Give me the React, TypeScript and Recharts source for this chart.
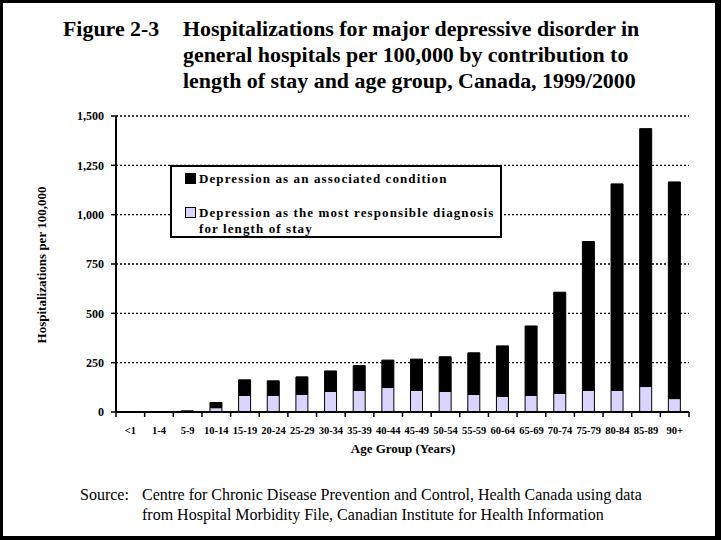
import React from 'react';
import { BarChart, Bar, XAxis, YAxis, CartesianGrid, Legend } from 'recharts';

const CATEGORIES = ['<1', '1-4', '5-9', '10-14', '15-19', '20-24', '25-29', '30-34', '35-39', '40-44', '45-49', '50-54', '55-59', '60-64', '65-69', '70-74', '75-79', '80-84', '85-89', '90+'];
const TOTAL = [0, 0, 6, 48, 163, 158, 178, 208, 235, 263, 268, 280, 300, 335, 436, 607, 864, 1156, 1436, 1166];
const MOST_RESPONSIBLE = [0, 0, 2, 22, 84, 84, 89, 104, 109, 124, 109, 104, 89, 79, 84, 94, 109, 109, 129, 68];
const Y_TICKS = [0, 250, 500, 750, 1000, 1250, 1500];

const SERIES_ASSOC = 'Depression as an associated condition';
const SERIES_MRD = 'Depression as the most responsible diagnosis for length of stay';

const data = CATEGORIES.map((c, i) => ({
  age: c,
  mrd: MOST_RESPONSIBLE[i],
  assoc: TOTAL[i] - MOST_RESPONSIBLE[i],
}));

const W = 721;
const H = 540;
const MARGIN = { top: 116, right: 32, left: 56, bottom: 98 };
const Y_AXIS_W = 60;
const X_AXIS_H = 30;
const PLOT_W = W - MARGIN.left - MARGIN.right - Y_AXIS_W;
const LAVENDER = '#D9D5FF';
const SERIF = '"Liberation Serif", "Times New Roman", serif';

const fmt = (v: number) => v.toLocaleString('en-US');

const XTick = (props: any) => {
  const { x, y, payload, index } = props;
  const half = PLOT_W / CATEGORIES.length / 2;
  const axisY = y - 8;
  return (
    <g>
      <line x1={x - half} y1={axisY} x2={x - half} y2={axisY + 5} stroke="#000" strokeWidth={1.5} />
      {index === CATEGORIES.length - 1 && (
        <line x1={x + half} y1={axisY} x2={x + half} y2={axisY + 5} stroke="#000" strokeWidth={1.5} />
      )}
      <text x={x} y={axisY + 22} textAnchor="middle" fontFamily={SERIF} fontWeight="bold" fontSize={10.5} fill="#000">
        {payload.value}
      </text>
    </g>
  );
};

const LegendBox = () => (
  <div
    style={{
      position: 'relative',
      width: 332,
      height: 73,
      border: '2px solid #000',
      background: '#fff',
      boxSizing: 'border-box',
      fontFamily: SERIF,
      fontWeight: 'bold',
      fontSize: 13,
      lineHeight: '16px',
      letterSpacing: '1.1px',
      color: '#000',
      textAlign: 'left',
    }}
  >
    <div style={{ position: 'absolute', left: 13, top: 6, width: 11, height: 11, background: '#000', border: '1px solid #000', boxSizing: 'border-box' }} />
    <div style={{ position: 'absolute', left: 27, top: 4, whiteSpace: 'nowrap' }}>{SERIES_ASSOC}</div>
    <div style={{ position: 'absolute', left: 13, top: 40, width: 11, height: 11, background: LAVENDER, border: '1px solid #000', boxSizing: 'border-box' }} />
    <div style={{ position: 'absolute', left: 27, top: 38, whiteSpace: 'nowrap' }}>Depression as the most responsible diagnosis</div>
    <div style={{ position: 'absolute', left: 27, top: 54, whiteSpace: 'nowrap' }}>for length of stay</div>
  </div>
);

export default function App() {
  return (
    <div style={{ position: 'absolute', left: 0, top: 0, width: W, height: H, background: '#fff', overflow: 'hidden' }}>
      <BarChart width={W} height={H} data={data} margin={MARGIN} barSize={12}>
        <CartesianGrid vertical={false} stroke="#000" strokeWidth={1.4} strokeDasharray="2 2" />
        <XAxis
          dataKey="age"
          height={X_AXIS_H}
          axisLine={{ stroke: '#000', strokeWidth: 2 }}
          tickLine={false}
          tickSize={5}
          tickMargin={3}
          interval={0}
          tick={<XTick />}
        />
        <YAxis
          width={Y_AXIS_W}
          domain={[0, 1500]}
          ticks={Y_TICKS}
          tickFormatter={fmt}
          axisLine={{ stroke: '#000', strokeWidth: 2 }}
          tickLine={{ stroke: '#000', strokeWidth: 1.5 }}
          tickSize={5}
          tickMargin={7}
          tick={{ fontFamily: SERIF, fontWeight: 'bold', fontSize: 12, fill: '#000' }}
        />
        <Legend
          layout="horizontal"
          verticalAlign="middle"
          align="center"
          content={<LegendBox />}
          wrapperStyle={{ position: 'absolute', left: 170, top: 165, width: 332, height: 73 }}
        />
        <Bar dataKey="mrd" name={SERIES_MRD} stackId="a" fill={LAVENDER} stroke="#000" strokeWidth={1} isAnimationActive={false} />
        <Bar dataKey="assoc" name={SERIES_ASSOC} stackId="a" fill="#000" stroke="#000" strokeWidth={1} isAnimationActive={false} />
      </BarChart>

      <div style={{ position: 'absolute', left: 63, top: 16, fontFamily: SERIF, fontWeight: 'bold', fontSize: 21.9, lineHeight: '26px', color: '#000', whiteSpace: 'nowrap' }}>
        Figure 2-3
      </div>
      <div style={{ position: 'absolute', left: 183, top: 16, fontFamily: SERIF, fontWeight: 'bold', fontSize: 21.9, lineHeight: '26px', color: '#000', whiteSpace: 'nowrap' }}>
        <div>Hospitalizations for major depressive disorder in</div>
        <div>general hospitals per 100,000 by contribution to</div>
        <div>length of stay and age group, Canada, 1999/2000</div>
      </div>

      <div
        style={{
          position: 'absolute',
          left: 42,
          top: 265,
          transform: 'translate(-50%, -50%) rotate(-90deg)',
          fontFamily: SERIF,
          fontWeight: 'bold',
          fontSize: 13,
          color: '#000',
          whiteSpace: 'nowrap',
        }}
      >
        Hospitalizations per 100,000
      </div>

      <div style={{ position: 'absolute', left: 403, top: 441, transform: 'translateX(-50%)', fontFamily: SERIF, fontWeight: 'bold', fontSize: 13, lineHeight: '16px', color: '#000', whiteSpace: 'nowrap' }}>
        Age Group (Years)
      </div>

      <div style={{ position: 'absolute', left: 80, top: 485, fontFamily: SERIF, fontSize: 16, lineHeight: '20px', color: '#000', whiteSpace: 'nowrap' }}>
        Source:
      </div>
      <div style={{ position: 'absolute', left: 142, top: 485, fontFamily: SERIF, fontSize: 16, lineHeight: '20px', color: '#000', whiteSpace: 'nowrap' }}>
        <div>Centre for Chronic Disease Prevention and Control, Health Canada using data</div>
        <div>from Hospital Morbidity File, Canadian Institute for Health Information</div>
      </div>

      <div
        style={{
          position: 'absolute',
          left: 0,
          top: 0,
          width: W,
          height: H,
          boxSizing: 'border-box',
          borderTop: '3px solid #000',
          borderLeft: '3px solid #000',
          borderRight: '6px solid #000',
          borderBottom: '4px solid #000',
          pointerEvents: 'none',
        }}
      />
    </div>
  );
}
